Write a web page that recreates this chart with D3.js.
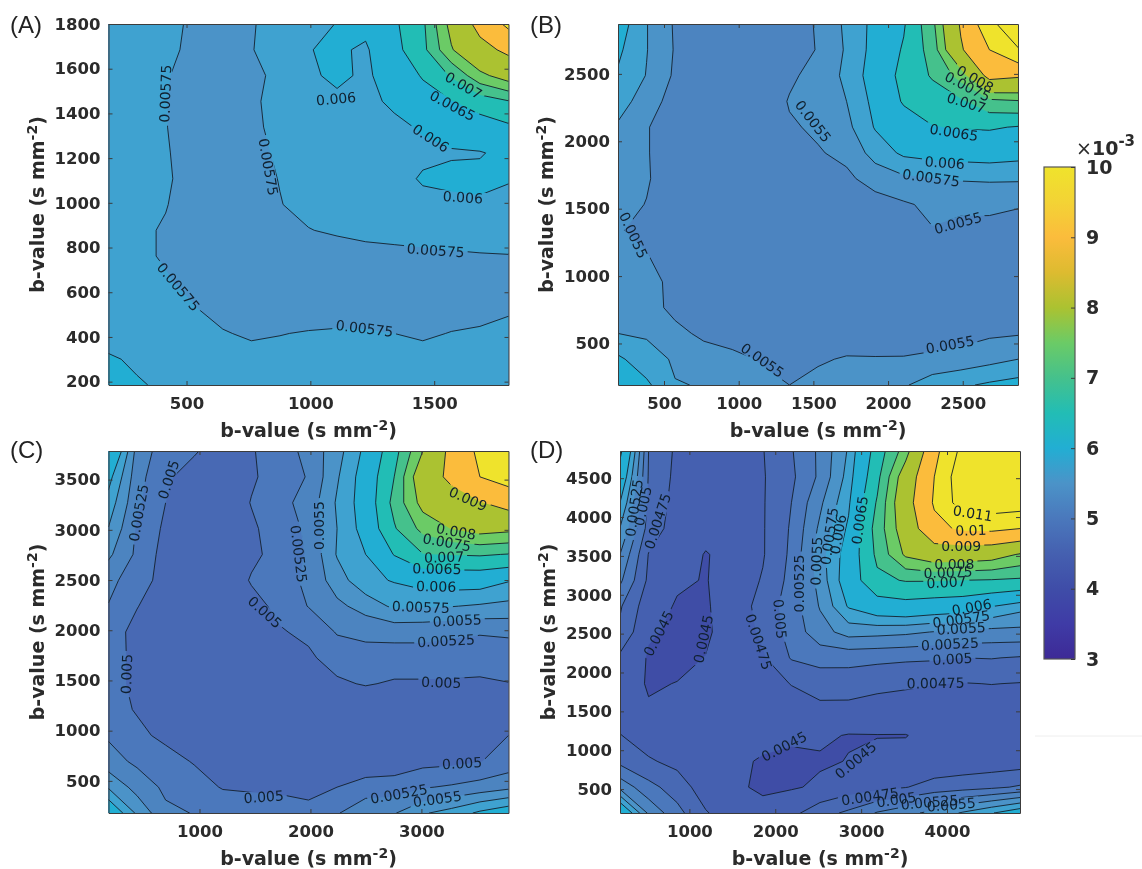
<!DOCTYPE html>
<html lang="en">
<head>
<meta charset="UTF-8">
<title>b-value contour maps</title>
<style>
  html, body { margin: 0; padding: 0; background: #fff; }
  svg { display: block; filter: blur(0.4px); }
  .tick text, .axisTitle { font-family: "DejaVu Sans", sans-serif; font-weight: bold; fill: #2b2b2b; }
  .panelTag { font-family: "Liberation Sans", sans-serif; font-size: 24px; fill: #222; }
  .clabel { font-family: "DejaVu Sans", sans-serif; font-size: 14px; fill: #10202f; }
</style>
</head>
<body>
<svg id="chart" width="1142" height="869"></svg>
<script src="https://d3js.org/d3.v7.min.js"></script>
<script>

// all values x10^-3, top row of each grid is the highest b-value
var valuesA = [
  [5.9,5.85,5.8,5.72,5.70,5.74,5.8,5.9,6.01,6.1,6.42,6.9,8.2,9.3,10.2],
  [5.85,5.82,5.78,5.72,5.68,5.745,5.8,5.99,6.05,5.95,6.35,6.85,7.95,8.7,9.2],
  [5.82,5.80,5.76,5.7,5.66,5.72,5.78,5.96,6.05,5.96,6.12,6.55,7.05,7.85,8.3],
  [5.8,5.78,5.755,5.68,5.64,5.73,5.79,5.84,5.95,5.93,6.05,6.25,6.48,6.72,6.97],
  [5.8,5.78,5.755,5.68,5.64,5.72,5.79,5.82,5.86,5.9,5.94,6.03,6.12,6.28,6.42],
  [5.8,5.78,5.76,5.7,5.65,5.71,5.77,5.82,5.85,5.88,5.9,5.94,5.975,5.98,6.08],
  [5.8,5.78,5.76,5.72,5.66,5.70,5.755,5.79,5.82,5.86,5.9,6.03,6.06,6.07,6.02],
  [5.8,5.78,5.755,5.7,5.66,5.66,5.745,5.79,5.8,5.82,5.85,5.92,5.94,5.96,5.92],
  [5.79,5.77,5.74,5.68,5.65,5.64,5.68,5.745,5.77,5.79,5.8,5.81,5.82,5.82,5.82],
  [5.79,5.77,5.74,5.68,5.64,5.62,5.63,5.66,5.68,5.7,5.71,5.72,5.73,5.74,5.745],
  [5.8,5.78,5.76,5.72,5.65,5.62,5.61,5.62,5.63,5.64,5.64,5.65,5.66,5.68,5.7],
  [5.82,5.8,5.78,5.755,5.7,5.67,5.66,5.67,5.67,5.68,5.68,5.68,5.69,5.71,5.74],
  [5.86,5.83,5.8,5.78,5.76,5.73,5.745,5.76,5.77,5.765,5.75,5.73,5.755,5.765,5.77],
  [6.04,5.95,5.88,5.84,5.82,5.8,5.8,5.81,5.82,5.82,5.81,5.8,5.81,5.82,5.83],
  [6.2,6.03,5.95,5.9,5.88,5.86,5.86,5.87,5.88,5.88,5.87,5.86,5.87,5.88,5.9]
];
var valuesB = [
  [6.15,5.76,5.47,5.35,5.3,5.3,5.35,5.53,5.8,6.08,6.45,7.35,9.1,10.65,12],
  [6.05,5.76,5.48,5.34,5.28,5.28,5.33,5.52,5.78,6.1,6.55,7.2,8.9,10.0,10.9],
  [5.97,5.74,5.46,5.33,5.27,5.27,5.45,5.6,5.8,6.15,6.65,7.05,7.7,9.3,9.12],
  [5.85,5.64,5.38,5.3,5.27,5.3,5.52,5.6,5.75,6.08,6.55,6.75,6.92,7.35,7.45],
  [5.72,5.52,5.33,5.27,5.27,5.27,5.47,5.54,5.68,6.02,6.25,6.48,6.53,6.55,6.47],
  [5.68,5.52,5.33,5.27,5.27,5.27,5.3,5.48,5.56,5.85,6.05,6.1,6.12,6.14,6.1],
  [5.65,5.53,5.32,5.27,5.27,5.27,5.27,5.3,5.45,5.6,5.7,5.74,5.77,5.78,5.78],
  [5.6,5.49,5.3,5.27,5.27,5.27,5.27,5.27,5.28,5.4,5.47,5.55,5.55,5.56,5.52],
  [5.53,5.4,5.27,5.27,5.27,5.27,5.27,5.27,5.27,5.27,5.32,5.49,5.44,5.42,5.4],
  [5.6,5.52,5.3,5.27,5.27,5.27,5.27,5.27,5.27,5.27,5.27,5.3,5.3,5.28,5.28],
  [5.65,5.6,5.42,5.27,5.27,5.27,5.27,5.27,5.27,5.27,5.27,5.27,5.27,5.27,5.27],
  [5.68,5.62,5.42,5.27,5.27,5.27,5.27,5.27,5.27,5.27,5.27,5.27,5.27,5.27,5.28],
  [5.75,5.72,5.58,5.44,5.3,5.27,5.27,5.27,5.3,5.33,5.35,5.36,5.4,5.46,5.48],
  [6.05,5.85,5.72,5.64,5.62,5.47,5.38,5.46,5.53,5.52,5.52,5.56,5.6,5.67,5.75],
  [6.4,6.05,5.76,5.74,5.72,5.62,5.5,5.6,5.62,5.65,5.72,5.88,5.96,6.04,6.1]
];
var valuesC = [
  [6.5,5.4,5.12,5.02,4.9,4.98,5.12,5.33,5.65,6.07,6.8,8.0,9.25,10.2,11],
  [6.1,5.35,5.03,4.92,4.85,4.97,5.1,5.27,5.72,6.15,7.0,8.5,9.2,10.0,10.4],
  [5.9,5.3,5.0,4.88,4.83,5.01,5.17,5.35,5.78,6.15,7.15,8.2,8.6,8.95,9.35],
  [5.74,5.22,4.95,4.84,4.81,4.96,5.12,5.3,5.75,6.12,6.95,7.65,8.02,8.25,8.15],
  [5.55,5.2,4.9,4.82,4.8,4.95,5.08,5.28,5.77,6.0,6.52,6.98,7.02,7.05,6.98],
  [5.32,5.12,4.9,4.8,4.82,5.02,5.15,5.3,5.63,5.93,6.02,6.12,6.15,6.15,6.02],
  [5.24,5.01,4.84,4.78,4.77,4.92,5.06,5.26,5.44,5.6,5.8,5.78,5.76,5.72,5.68],
  [5.12,4.92,4.8,4.77,4.77,4.78,4.98,5.05,5.27,5.32,5.33,5.33,5.3,5.27,5.3],
  [5.1,4.94,4.78,4.77,4.77,4.77,4.8,4.96,5.1,5.14,5.14,5.14,5.12,5.11,5.08],
  [5.08,4.95,4.78,4.77,4.77,4.77,4.77,4.77,4.96,5.02,4.97,4.97,4.97,4.96,4.995],
  [5.1,4.98,4.8,4.77,4.77,4.77,4.77,4.77,4.77,4.77,4.77,4.77,4.77,4.77,4.77],
  [5.22,5.06,4.94,4.77,4.77,4.77,4.77,4.77,4.77,4.77,4.77,4.77,4.77,4.77,5.0],
  [5.35,5.2,5.1,4.98,4.82,4.77,4.77,4.77,4.77,4.8,4.85,4.92,4.94,4.99,5.1],
  [5.72,5.4,5.2,5.12,4.98,4.95,4.93,4.9,5.0,5.12,5.12,5.23,5.28,5.35,5.44],
  [6.3,5.7,5.3,5.24,5.2,5.2,5.18,5.1,5.23,5.42,5.48,5.72,5.85,6.05,6.2]
];
var valuesD = [
  [6.6,5.0,4.7,4.6,4.6,4.74,4.98,5.3,5.78,6.7,7.75,9.7,11.3,11.6,11.7],
  [6.3,4.98,4.68,4.58,4.57,4.73,4.95,5.3,5.85,6.85,8.4,10.0,11.7,11.8,11.8],
  [6.0,4.95,4.65,4.56,4.55,4.73,5.0,5.45,5.95,7.05,8.6,10.1,11.5,11.6,11.5],
  [5.74,4.9,4.62,4.53,4.52,4.73,5.03,5.55,6.05,7.2,8.4,9.75,10.15,10.2,10.0],
  [5.5,4.74,4.55,4.495,4.53,4.73,5.05,5.65,6.15,7.1,8.1,8.45,8.4,8.3,7.95],
  [5.3,4.7,4.53,4.49,4.6,4.77,5.08,5.6,6.2,6.9,7.03,7.03,7.0,6.97,6.92],
  [5.03,4.6,4.48,4.48,4.6,4.85,5.12,5.52,6.03,6.25,6.32,6.25,6.2,6.02,5.85],
  [4.95,4.52,4.47,4.47,4.6,4.8,5.1,5.4,5.6,5.58,5.55,5.49,5.45,5.42,5.42],
  [4.7,4.48,4.45,4.505,4.56,4.72,5.02,5.1,5.08,5.06,5.04,5.03,5.0,5.01,4.98],
  [4.62,4.48,4.505,4.55,4.58,4.62,4.76,4.84,4.87,4.82,4.79,4.76,4.74,4.755,4.74],
  [4.62,4.52,4.53,4.55,4.56,4.58,4.62,4.7,4.68,4.64,4.62,4.6,4.6,4.6,4.6],
  [4.76,4.62,4.58,4.55,4.54,4.53,4.53,4.53,4.49,4.495,4.495,4.55,4.56,4.57,4.58],
  [4.93,4.78,4.68,4.58,4.52,4.49,4.46,4.48,4.505,4.54,4.55,4.56,4.58,4.6,4.62],
  [5.42,5.08,4.88,4.62,4.53,4.47,4.48,4.53,4.62,4.68,4.74,4.85,4.9,4.95,5.03],
  [6.4,5.45,5.08,4.77,4.6,4.56,4.68,4.9,5.05,5.27,5.42,5.58,5.78,5.98,6.2]
];

var levels = [3, 4.5, 4.75, 5, 5.25, 5.5, 5.75, 6, 6.5, 7, 7.5, 8, 9, 10, 11];
var bandColors = ["#3f4da6", "#4560b0", "#4869b4", "#4b78bc", "#4c84c0", "#4b93c8", "#3fa2d0", "#22aed3",
                  "#22bdb5", "#45c18c", "#6bcb66", "#abc231", "#fbbc3c", "#efe32c", "#efe32c"];

var cbarValues = [3, 3.5, 4, 4.5, 5, 5.5, 6, 6.5, 7, 7.5, 8, 8.5, 9, 9.5, 10];
var cbarColors = ["#3d2a96", "#3f3ba6", "#3f4da8", "#4560b0", "#4a78bc", "#4b93c8", "#22aed3", "#22bdb5",
                  "#45c18c", "#6bcb66", "#abc231", "#ddbb30", "#fbbc3c", "#f3d335", "#efe32c"];
var cbarTicks = [3, 4, 5, 6, 7, 8, 9, 10];

var xTicksA = [500, 1000, 1500], yTicksA = [200, 400, 600, 800, 1000, 1200, 1400, 1600, 1800];
var xTicksB = [500, 1000, 1500, 2000, 2500], yTicksB = [500, 1000, 1500, 2000, 2500];
var xTicksC = [1000, 2000, 3000], yTicksC = [500, 1000, 1500, 2000, 2500, 3000, 3500];
var xTicksD = [1000, 2000, 3000, 4000], yTicksD = [500, 1000, 1500, 2000, 2500, 3000, 3500, 4000, 4500];

var domainA = [185, 1800], domainB = [192, 2870], domainC = [180, 3785], domainD = [192, 4850];

// contour labels: text, place in the plot as a fraction of width and height, angle
var labelsA = [
  ["0.00575",.142,.807,-88],["0.00575",.40,.604,80],["0.00575",.175,.272,50],["0.00575",.64,.157,7],
  ["0.00575",.818,.373,4],["0.006",.569,.793,-5],["0.006",.806,.684,33],["0.006",.886,.52,4],
  ["0.0065",.86,.774,28],["0.007",.888,.83,30]
];
var labelsB = [
  ["0.0055",.488,.731,52],["0.0055",.039,.415,65],["0.0055",.361,.069,35],["0.0055",.85,.449,-15],
  ["0.0055",.83,.112,-10],["0.00575",.783,.574,8],["0.006",.817,.616,4],["0.0065",.84,.70,9],
  ["0.007",.871,.782,17],["0.0075",.874,.827,27],["0.008",.893,.848,30]
];
var labelsC = [
  ["0.005",.15,.921,-72],["0.00525",.075,.829,-80],["0.005",.045,.384,-88],["0.005",.391,.555,42],
  ["0.00525",.476,.716,83],["0.0055",.527,.794,-90],["0.005",.388,.045,-4],["0.005",.884,.138,-3],
  ["0.005",.832,.361,2],["0.00525",.726,.053,-10],["0.0055",.822,.039,-8],["0.00525",.844,.476,-3],
  ["0.0055",.872,.532,-3],["0.00575",.781,.569,2],["0.006",.819,.626,1],["0.0065",.821,.675,1],
  ["0.007",.839,.707,-2],["0.0075",.846,.748,10],["0.008",.869,.778,10],["0.009",.899,.868,24]
];
var labelsD = [
  ["0.00525",.035,.843,-82],["0.005",.057,.848,-78],["0.00475",.094,.806,-72],["0.0045",.096,.496,-63],
  ["0.0045",.208,.481,-78],["0.00475",.347,.473,72],["0.005",.4,.536,85],["0.00525",.447,.634,-90],
  ["0.0055",.491,.696,-88],["0.00575",.523,.765,-82],["0.006",.545,.77,-80],["0.0065",.599,.809,-82],
  ["0.011",.882,.828,9],["0.01",.877,.781,-2],["0.009",.853,.737,0],["0.008",.836,.689,0],
  ["0.0075",.82,.665,-2],["0.007",.816,.638,-3],["0.006",.879,.569,-10],["0.00575",.853,.536,-8],
  ["0.0055",.853,.51,-3],["0.00525",.825,.467,-3],["0.005",.831,.426,-3],["0.00475",.789,.359,-1],
  ["0.0045",.41,.184,-27],["0.0045",.589,.146,-40],["0.00475",.625,.046,-8],["0.005",.691,.037,-8],
  ["0.00525",.774,.03,-5],["0.0055",.828,.023,-5]
];

var svg = d3.select("#chart");
var gridSize = 15;

function drawPanel(id, box, values, xDomain, yDomain, xTicks, yTicks, labels, tagPos) {
  var x = d3.scaleLinear().domain(xDomain).range([box.x0, box.x1]);
  var y = d3.scaleLinear().domain(yDomain).range([box.y1, box.y0]);

  // d3.contours puts sample i at i + 0.5
  var gridX = d3.scaleLinear().domain([0.5, gridSize - 0.5]).range([box.x0, box.x1]);
  var gridY = d3.scaleLinear().domain([0.5, gridSize - 0.5]).range([box.y0, box.y1]);
  var path = d3.geoPath(d3.geoTransform({
    point: function(a, b) { this.stream.point(gridX(a), gridY(b)); }
  }));

  var contours = d3.contours().size([gridSize, gridSize]).thresholds(levels)(values.flat());

  var defs = svg.append("defs");
  defs.append("clipPath").attr("id", "clip" + id).append("rect")
      .attr("x", box.x0).attr("y", box.y0)
      .attr("width", box.x1 - box.x0).attr("height", box.y1 - box.y0);
  var mask = defs.append("mask").attr("id", "gap" + id).attr("maskUnits", "userSpaceOnUse")
      .attr("x", 0).attr("y", 0).attr("width", 1142).attr("height", 869);
  mask.append("rect").attr("width", 1142).attr("height", 869).attr("fill", "#fff");

  var plot = svg.append("g").attr("clip-path", "url(#clip" + id + ")");

  plot.selectAll(".band").data(contours).enter().append("path")
      .attr("class", "band")
      .attr("d", path)
      .attr("fill", function(d, i) { return bandColors[i]; });

  var lineGroup = plot.append("g").attr("mask", "url(#gap" + id + ")");
  lineGroup.selectAll(".line").data(contours.slice(1)).enter().append("path")
      .attr("class", "line")
      .attr("d", path)
      .attr("fill", "none")
      .attr("stroke", "#14202c")
      .attr("stroke-width", 0.9);

  var fx = d3.scaleLinear().domain([0, 1]).range([box.x0, box.x1]);
  var fy = d3.scaleLinear().domain([0, 1]).range([box.y1, box.y0]);

  var text = plot.selectAll(".clabel").data(labels).enter().append("text")
      .attr("class", "clabel")
      .attr("text-anchor", "middle")
      .attr("dy", "0.36em")
      .attr("transform", function(d) {
        return "translate(" + fx(d[1]) + "," + fy(d[2]) + ") rotate(" + d[3] + ")";
      })
      .text(function(d) { return d[0]; });

  text.each(function(d) {
    var w = this.getComputedTextLength() + 6;
    mask.append("rect")
        .attr("x", -w / 2).attr("y", -6).attr("width", w).attr("height", 12)
        .attr("fill", "#000")
        .attr("transform", "translate(" + fx(d[1]) + "," + fy(d[2]) + ") rotate(" + d[3] + ")");
  });

  // box with inward ticks on all four sides
  function styleAxis(g, showText) {
    g.selectAll(".domain").attr("stroke", "#3c3c3c").attr("stroke-width", 1);
    g.selectAll(".tick line").attr("stroke", "#3c3c3c");
    g.selectAll(".tick text").attr("font-size", 16.5).style("display", showText ? null : "none");
  }
  var plain = d3.format("d");
  svg.append("g").attr("transform", "translate(0," + box.y1 + ")")
      .call(d3.axisBottom(x).tickValues(xTicks).tickFormat(plain).tickSize(-4).tickPadding(12).tickSizeOuter(0))
      .call(styleAxis, true);
  svg.append("g").attr("transform", "translate(0," + box.y0 + ")")
      .call(d3.axisTop(x).tickValues(xTicks).tickFormat(plain).tickSize(-4).tickSizeOuter(0))
      .call(styleAxis, false);
  svg.append("g").attr("transform", "translate(" + box.x0 + ",0)")
      .call(d3.axisLeft(y).tickValues(yTicks).tickFormat(plain).tickSize(-4).tickPadding(8).tickSizeOuter(0))
      .call(styleAxis, true);
  svg.append("g").attr("transform", "translate(" + box.x1 + ",0)")
      .call(d3.axisRight(y).tickValues(yTicks).tickFormat(plain).tickSize(-4).tickSizeOuter(0))
      .call(styleAxis, false);

  function axisTitle(el) {
    el.attr("class", "axisTitle").attr("text-anchor", "middle").attr("font-size", 19);
    el.append("tspan").text("b-value (s mm");
    el.append("tspan").attr("dy", -7).attr("font-size", 14).text("-2");
    el.append("tspan").attr("dy", 7).text(")");
  }
  svg.append("text").attr("x", (box.x0 + box.x1) / 2).attr("y", box.y1 + 52).call(axisTitle);
  svg.append("text")
      .attr("transform", "translate(" + (box.x0 - 65) + "," + (box.y0 + box.y1) / 2 + ") rotate(-90)")
      .call(axisTitle);

  svg.append("text").attr("class", "panelTag")
      .attr("x", tagPos[0]).attr("y", tagPos[1])
      .text("(" + id + ")");
}

drawPanel("A", {x0: 108.5, x1: 508.5, y0: 24, y1: 385}, valuesA, domainA, domainA, xTicksA, yTicksA, labelsA, [10, 33]);
drawPanel("B", {x0: 618, x1: 1018, y0: 24, y1: 385}, valuesB, domainB, domainB, xTicksB, yTicksB, labelsB, [530, 33]);
drawPanel("C", {x0: 108.5, x1: 508.5, y0: 451, y1: 813}, valuesC, domainC, domainC, xTicksC, yTicksC, labelsC, [10, 458]);
drawPanel("D", {x0: 620, x1: 1020, y0: 451, y1: 813}, valuesD, domainD, domainD, xTicksD, yTicksD, labelsD, [530, 458]);

// colorbar
var cbar = {x0: 1044, x1: 1075, y0: 167, y1: 659};
var cbarScale = d3.scaleLinear().domain([3, 10]).range([cbar.y1, cbar.y0]);
var grad = svg.append("defs").append("linearGradient").attr("id", "cbarGrad")
    .attr("x1", 0).attr("x2", 0).attr("y1", 1).attr("y2", 0);
grad.selectAll("stop").data(cbarValues).enter().append("stop")
    .attr("offset", function(d) { return (d - 3) / 7; })
    .attr("stop-color", function(d, i) { return cbarColors[i]; });

svg.append("rect")
    .attr("x", cbar.x0).attr("y", cbar.y0)
    .attr("width", cbar.x1 - cbar.x0).attr("height", cbar.y1 - cbar.y0)
    .attr("fill", "url(#cbarGrad)")
    .attr("stroke", "#555").attr("stroke-width", 1.2);

var cbarAxis = svg.append("g").attr("transform", "translate(" + cbar.x1 + ",0)")
    .call(d3.axisRight(cbarScale).tickValues(cbarTicks).tickSize(-4).tickPadding(11).tickFormat(d3.format("d")));
cbarAxis.select(".domain").remove();
cbarAxis.selectAll(".tick line").attr("stroke", "#3c3c3c");
cbarAxis.selectAll(".tick text").attr("font-size", 19);

var cbarExp = svg.append("text").attr("class", "axisTitle").attr("x", 1076).attr("y", 155).attr("font-size", 19);
cbarExp.append("tspan").attr("font-weight", "normal").text("\u00d7");
cbarExp.append("tspan").text("10");
cbarExp.append("tspan").attr("dy", -9).attr("font-size", 15).text("-3");

// stray rule left in the source figure
svg.append("line").attr("x1", 1035).attr("x2", 1142).attr("y1", 736).attr("y2", 736)
    .attr("stroke", "#eeeeee");

</script>
</body>
</html>
